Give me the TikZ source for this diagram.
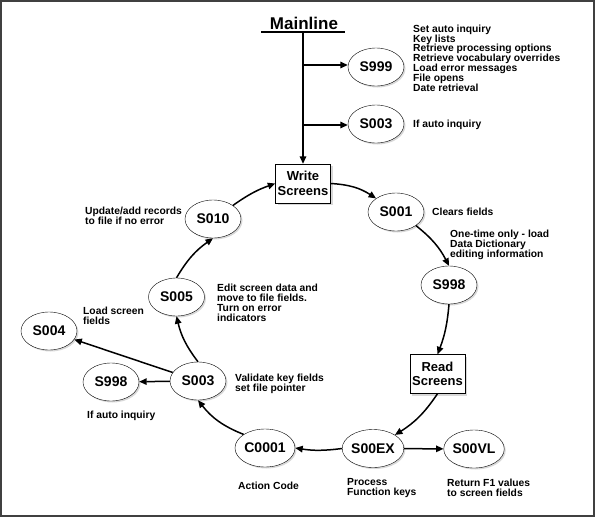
\documentclass[tikz,border=0pt]{standalone}
\usepackage{fontspec}
\setmainfont{Liberation Sans}
\usepackage{tikz}
\usetikzlibrary{shapes, arrows.meta, positioning, calc, shadows}
\tikzset{
    state/.style={ellipse, draw, thin, fill=white, minimum width=56pt, minimum height=38pt, inner sep=0pt,
        font=\fontsize{14}{14}\selectfont\bfseries,
        drop shadow={shadow xshift=1.5pt, shadow yshift=-1.5pt, fill=black!30}},
    box/.style={rectangle, draw, thin, fill=white, minimum width=55pt, minimum height=39pt, inner sep=0pt, align=center,
        font=\fontsize{13}{14.5}\selectfont\bfseries,
        drop shadow={shadow xshift=2pt, shadow yshift=-2pt, fill=black!30}},
    note/.style={anchor=west, align=left, inner sep=0pt, font=\fontsize{10.3}{9.8}\selectfont\bfseries},
    arrow/.style={-{Triangle[length=7.5pt, width=6.5pt]}, line width=1.5pt}
}

\begin{document}
\begin{tikzpicture}[x=1pt, y=-1pt]
  \useasboundingbox (0,0) rectangle (595,517);
  \draw[line width=2pt, black!75] (1,1) rectangle (594,516);

  % mainline and its calls
  \node[font=\fontsize{17}{17}\selectfont\bfseries, inner sep=0pt] (main) at (304,23) {Mainline};
  \draw[line width=2pt] (261,32) -- (345,32);
  \coordinate (top) at (303,32);
  \node[state] (s999) at (376,67) {S999};
  \node[state] (s003a) at (376,124) {S003};
  \node[box] (write) at (303,183.5) {Write\\Screens};
  \draw[arrow] (top) -- (write.north);
  \coordinate (j1) at (303,65);
  \coordinate (j2) at (303,125);
  \draw[arrow] (j1) -- (j1 -| s999.west);
  \draw[arrow] (j2) -- (j2 -| s003a.west);
  \node[note] at (413,58) {Set auto inquiry\\Key lists\\Retrieve processing options\\Retrieve vocabulary overrides\\Load error messages\\File opens\\Date retrieval};
  \node[note] at (413,125) {If auto inquiry};

  % screen cycle
  \node[state] (s001) at (396,212) {S001};
  \node[state] (s998) at (449,285) {S998};
  \node[box] (read) at (437.5,374) {Read\\Screens};
  \node[state] (s00ex) at (373,448.5) {S00EX};
  \node[state] (s00vl) at (474,449) {S00VL};
  \node[state, minimum width=60pt] (c0001) at (265,448) {C0001};
  \node[state] (s003) at (198,381) {S003};
  \node[state] (s998b) at (111,382) {S998};
  \node[state] (s004) at (49,331) {S004};
  \node[state] (s005) at (176.5,297) {S005};
  \node[state] (s010) at (213,219) {S010};

  \draw[arrow] (write.east) to[bend left=15] (s001.north west);
  \draw[arrow] (s001.south east) to[bend left=12] (s998.north);
  \draw[arrow] (s998.south) to[bend left=8] (read.north);
  \draw[arrow] (read.south) to[bend left=12] (s00ex.north east);
  \draw[arrow] (s00ex) -- (s00vl);
  \draw[arrow] (s00ex.west) to[bend left=8] (c0001.east);
  \draw[arrow] (c0001.north west) to[bend left=15] (s003.south);
  \draw[arrow] (s003) -- (s998b);
  \draw[arrow] (s003) -- (s004);
  \draw[arrow] (s003.north) to[bend left=12] (s005.south);
  \draw[arrow] (s005.north) to[bend left=12] (s010.south);
  \draw[arrow] (s010.north east) to[bend left=8] (write.west);

  % notes
  \node[note] at (432,212) {Clears fields};
  \node[note] at (450,245) {One-time only - load\\Data Dictionary\\editing information};
  \node[note] at (238,486) {Action Code};
  \node[note] at (347,488) {Process\\Function keys};
  \node[note] at (447,488) {Return F1 values\\to screen fields};
  \node[note] at (235,384) {Validate key fields\\set file pointer};
  \node[note] at (87,416) {If auto inquiry};
  \node[note] at (83,316) {Load screen\\fields};
  \node[note] at (217,303) {Edit screen data and\\move to file fields.\\Turn on error\\indicators};
  \node[note] at (85,216) {Update/add records\\to file if no error};
\end{tikzpicture}
\end{document}
